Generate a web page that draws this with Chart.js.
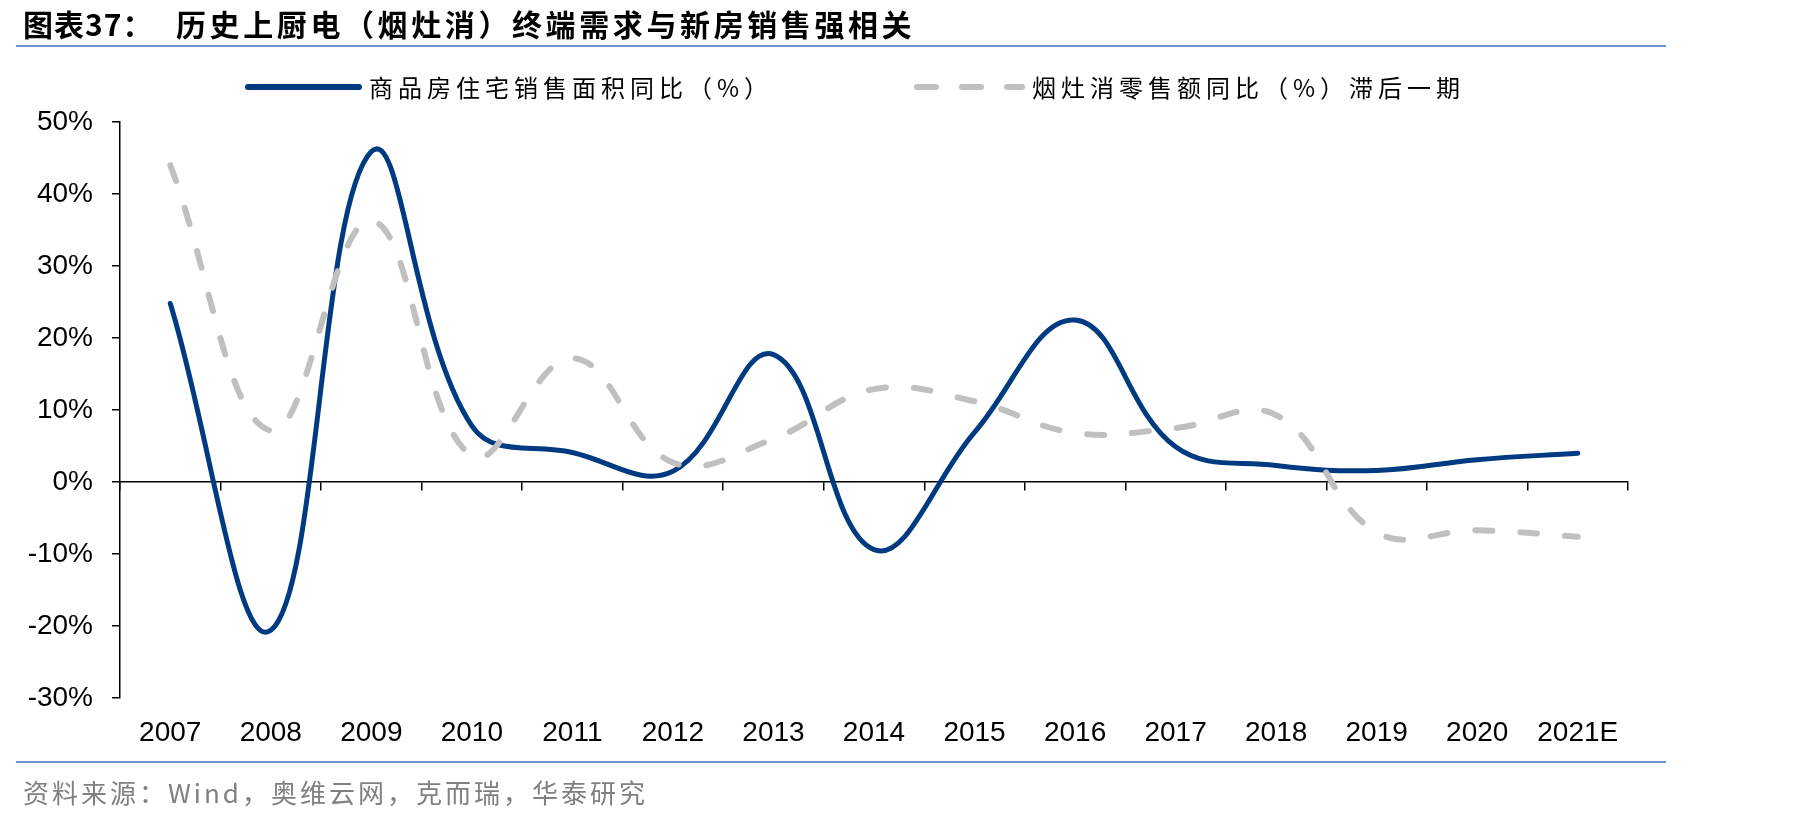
<!DOCTYPE html>
<html>
<head>
<meta charset="utf-8">
<script src="https://cdn.jsdelivr.net/npm/chart.js@4.4.1/dist/chart.umd.min.js"></script>
<style>
  html, body { margin: 0; padding: 0; background: #fff; }
  body { width: 1819px; height: 816px; position: relative; overflow: hidden; font-family: "Noto Sans CJK SC", sans-serif; }
  #wrap { position: absolute; left: 0; top: 0; width: 1819px; height: 816px; }
  .abs { position: absolute; white-space: nowrap; }
  .title { font-size: 30px; font-weight: 700; line-height: 30px; top: 8px; letter-spacing: 3.6px; color: #000; }
  .rule { position: absolute; left: 16px; width: 1650px; height: 2px; background: #7094c8; }
  .leg { font-size: 24px; line-height: 24px; top: 75px; letter-spacing: 5px; color: #000; }
  .src { font-size: 26px; line-height: 26px; top: 779px; left: 23px; letter-spacing: 3px; color: #808080; }
</style>
</head>
<body>
<div id="wrap"><canvas id="chart"></canvas></div>

<div class="abs title" style="left:23px;letter-spacing:1px">图表37：</div>
<div class="abs title" style="left:176px">历史上厨电（烟灶消）终端需求与新房销售强相关</div>
<div class="rule" style="top:45px"></div>

<svg class="abs" style="left:0;top:0" width="1819" height="120">
  <line x1="248" y1="87" x2="359" y2="87" stroke="#003a80" stroke-width="6" stroke-linecap="round"/>
  <line x1="917" y1="87" x2="1022" y2="87" stroke="#c0c0c0" stroke-width="6" stroke-linecap="round" stroke-dasharray="19 26"/>
</svg>
<div class="abs leg" style="left:369px">商品房住宅销售面积同比（%）</div>
<div class="abs leg" style="left:1032px">烟灶消零售额同比（%）滞后一期</div>

<div class="rule" style="top:761px"></div>
<div class="abs src">资料来源：Wind，奥维云网，克而瑞，华泰研究</div>

<script>
const years = ["2007", "2008", "2009", "2010", "2011", "2012", "2013", "2014", "2015", "2016", "2017", "2018", "2019", "2020", "2021E"];
// 商品房住宅销售面积同比（%）
const housingSalesYoY = [24.8, -20.6, 45.9, 7.8, 4.1, 1.5, 17.7, -9.4, 6.9, 22.5, 4.9, 2.3, 1.6, 3.1, 4.0];
// 烟灶消零售额同比（%）滞后一期
const kitchenRetailYoY = [44.0, 7.1, 36.3, 3.6, 17.2, 2.7, 6.0, 12.9, 11.2, 6.8, 7.5, 9.3, -7.0, -6.7, -7.6];
const yTicks = [-30, -20, -10, 0, 10, 20, 30, 40, 50];

function drawChart() {
  const ctx = document.getElementById("chart").getContext("2d");
  const tickFont = { family: "'Liberation Sans', Arial, sans-serif", size: 28 };

  new Chart(ctx, {
    type: "line",
    data: {
      labels: years,
      datasets: [
        {
          label: "烟灶消零售额同比（%）滞后一期",
          data: kitchenRetailYoY,
          borderColor: "#c0c0c0",
          borderWidth: 6,
          borderDash: [17, 28],
          borderCapStyle: "round",
          pointRadius: 0,
          tension: 0.4,
          xAxisID: "x",
          yAxisID: "y",
        },
        {
          label: "商品房住宅销售面积同比（%）",
          data: housingSalesYoY,
          borderColor: "#003a80",
          borderWidth: 5,
          borderCapStyle: "round",
          pointRadius: 0,
          tension: 0.4,
          xAxisID: "x",
          yAxisID: "y",
        },
      ],
    },
    options: {
      responsive: true,
      maintainAspectRatio: false,
      animation: false,
      layout: { padding: { top: 122, left: 0, right: 191, bottom: 58 } },
      plugins: {
        legend: { display: false },
        tooltip: { enabled: false },
      },
      scales: {
        x: {
          type: "category",
          position: { y: 0 },
          offset: true,
          grid: { offset: true, drawOnChartArea: false, drawTicks: true, tickLength: 8, color: "#000", lineWidth: 1.5 },
          border: { display: true, color: "#000", width: 1.5 },
          ticks: { display: false },
        },
        xb: {
          type: "category",
          position: "bottom",
          offset: true,
          grid: { display: false, drawTicks: false },
          border: { display: false },
          ticks: { color: "#000", font: tickFont, padding: 18, autoSkip: false, maxRotation: 0 },
          afterFit: (scale) => { scale.height = 60; },
        },
        y: {
          position: "left",
          min: -30,
          max: 50,
          afterBuildTicks: (scale) => { scale.ticks = yTicks.map((v) => ({ value: v })); },
          grid: { drawOnChartArea: false, drawTicks: true, tickLength: 8, color: "#000", lineWidth: 1.5 },
          border: { display: true, color: "#000", width: 1.5 },
          ticks: { color: "#000", font: tickFont, padding: 19, callback: (v) => v + "%" },
          afterFit: (scale) => { scale.width = 120; },
        },
      },
    },
  });
}

drawChart();
</script>
</body>
</html>
